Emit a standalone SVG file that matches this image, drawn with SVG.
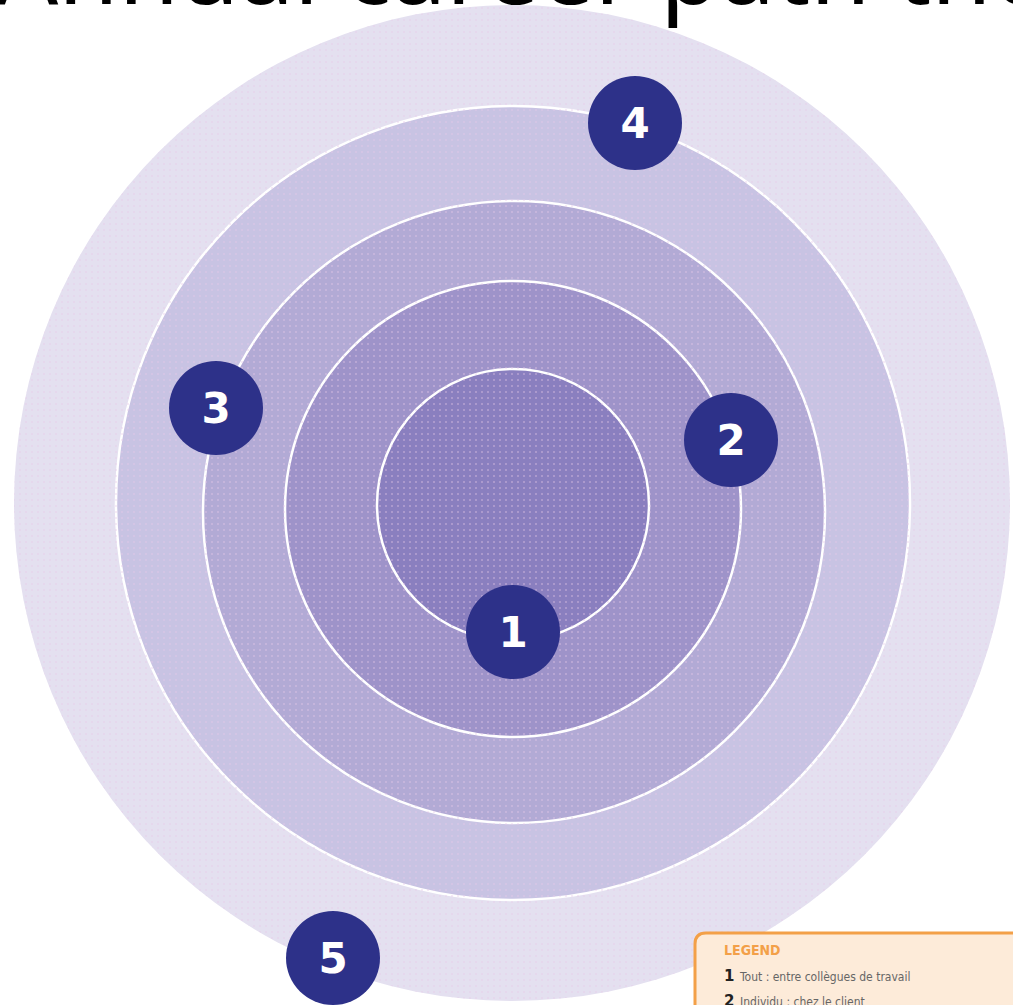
<svg xmlns="http://www.w3.org/2000/svg" width="1013" height="1005" viewBox="0 0 1013 1005">
<style>
.ring{stroke:#ffffff;stroke-width:2.5}
.badge circle{fill:#2d3189}
.badge text{fill:#ffffff;font-family:"DejaVu Sans",sans-serif;font-weight:bold;font-size:42px;text-anchor:middle}
.title{font-family:"Noto Sans","DejaVu Sans",sans-serif;font-size:100px;fill:#000000}
.leg{font-family:"DejaVu Sans Condensed","DejaVu Sans",sans-serif;font-size:12px;fill:#666666}
</style>
<defs>
<pattern id="dots" width="6" height="6" patternUnits="userSpaceOnUse">
<rect x="1" y="1" width="2" height="2" fill="#e8c8e8" opacity="0.35"/>
</pattern>
</defs>
<rect width="1013" height="1005" fill="#ffffff"/>
<text class="title" x="-4" y="4" textLength="1144" lengthAdjust="spacingAndGlyphs">Annual career path there</text>
<g id="ring5"><circle cx="512" cy="503" r="498" fill="#e4e0f0"/></g>
<g id="ring4"><circle class="ring" cx="513" cy="503" r="397" fill="#c8c3e3"/></g>
<g id="ring3"><circle class="ring" cx="514" cy="512" r="311" fill="#b2aad5"/></g>
<g id="ring2"><circle class="ring" cx="513" cy="509" r="228" fill="#9e93c9"/></g>
<g id="ring1"><circle class="ring" cx="513" cy="505" r="136" fill="#8a7fbf"/></g>
<circle cx="512" cy="503" r="498" fill="url(#dots)" pointer-events="none"/>
<g id="badge1" class="badge"><circle cx="513" cy="632" r="47"/><text x="513" y="647">1</text></g>
<g id="badge2" class="badge"><circle cx="731" cy="440" r="47"/><text x="731" y="455">2</text></g>
<g id="badge3" class="badge"><circle cx="216" cy="408" r="47"/><text x="216" y="423">3</text></g>
<g id="badge4" class="badge"><circle cx="635" cy="123" r="47"/><text x="635" y="138">4</text></g>
<g id="badge5" class="badge"><circle cx="333" cy="958" r="47"/><text x="333" y="973">5</text></g>
<g id="legend">
<path d="M695 1020 V944 Q695 933 706 933 H1030 V1020 Z" fill="#fdebd9" stroke="#f3a048" stroke-width="3"/>
<text x="724" y="955" font-family="DejaVu Sans Condensed,DejaVu Sans,sans-serif" font-size="14" font-weight="bold" fill="#f3a048">LEGEND</text>
<text x="724" y="981" font-family="DejaVu Sans,sans-serif" font-size="15" font-weight="bold" fill="#222222">1</text>
<text class="leg" x="740" y="981" font-size="13">Tout : entre collègues de travail</text>
<text x="724" y="1006" font-family="DejaVu Sans,sans-serif" font-size="15" font-weight="bold" fill="#222222">2</text>
<text class="leg" x="740" y="1006" font-size="13">Individu : chez le client</text>
</g>
</svg>
